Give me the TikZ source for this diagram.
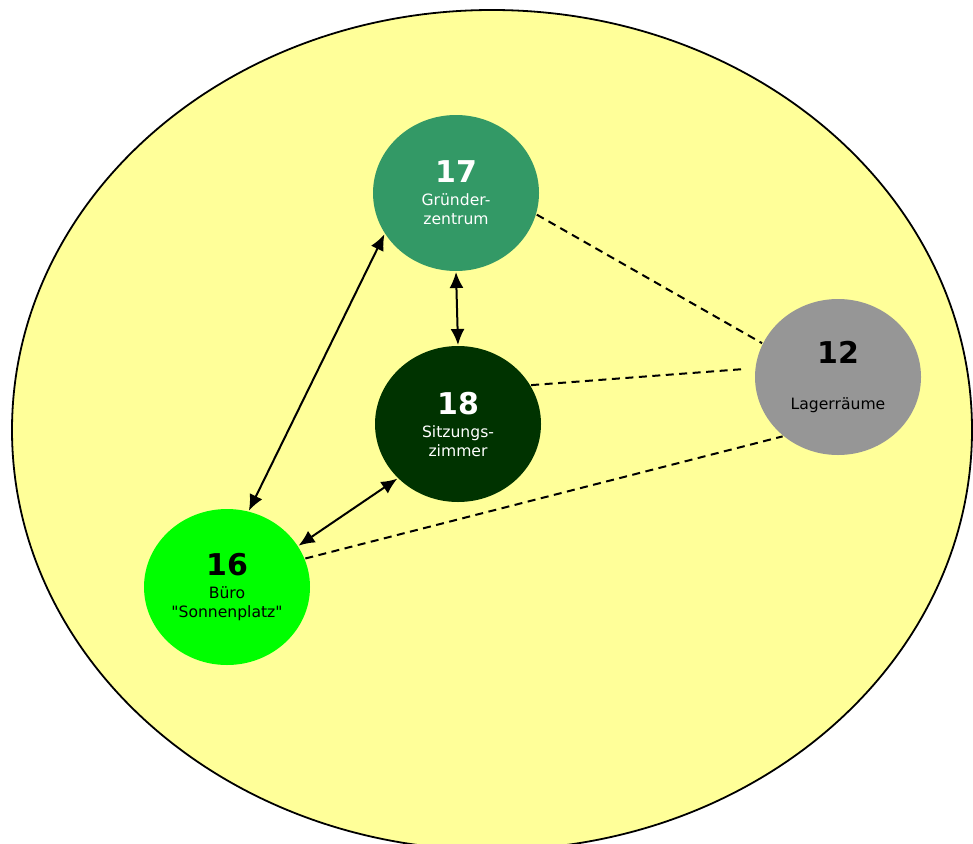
\documentclass[tikz,border=0pt]{standalone}
\usepackage{fontspec}
\setmainfont{DejaVu Sans}[Ligatures=TeXOff]
\usetikzlibrary{shapes.geometric,arrows.meta}

\definecolor{hallgelb}{HTML}{FFFF99}
\definecolor{gruender}{HTML}{339966}
\definecolor{sitzung}{HTML}{003300}
\definecolor{sonne}{HTML}{00FF00}
\definecolor{lager}{HTML}{969696}

\newcommand{\raumnr}[1]{{\fontsize{30}{32}\selectfont\bfseries #1}}

\begin{document}
\begin{tikzpicture}[x=1pt, y=-1pt, line width=2pt,
    main/.style = {ellipse, minimum width=166pt, minimum height=156pt, inner sep=0pt,
                   align=center, font=\fontsize{15.6}{19}\selectfont},
    link/.style = {{Latex[length=16pt,width=14pt]}-{Latex[length=16pt,width=14pt]}},
    weg/.style = {dash pattern=on 8pt off 5.5pt}]
    \useasboundingbox (0,0) rectangle (973,843);
    \clip (0,0) rectangle (973,843);
    \filldraw[fill=hallgelb, line width=1.8pt] (492,430) ellipse [x radius=480, y radius=420];

    \node[main, fill=gruender, text=white] (17) at (456,193) {\raumnr{17}\\[4pt]Gründer-\\zentrum};
    \node[main, fill=sitzung, text=white] (18) at (458,424) {\raumnr{18}\\[4pt]Sitzungs-\\zimmer};
    \node[main, fill=sonne] (16) at (227,587) {\raumnr{16}\\[4pt]Büro\\"Sonnenplatz"};
    \node[main, fill=lager] (12) at (838,377) {\raumnr{12}\\[27pt]Lagerräume};

    \draw[link] (16.74) -- (17.210);
    \draw[link] (17.south) -- (18.north);
    \draw[link] (16.30) -- (18.222);

    \draw[weg] (17.-15) -- (12.156);
    \draw[weg, shorten >=11pt] (18.28) -- (12.174);
    \draw[weg] (16.20) -- (12.227);
\end{tikzpicture}
\end{document}
